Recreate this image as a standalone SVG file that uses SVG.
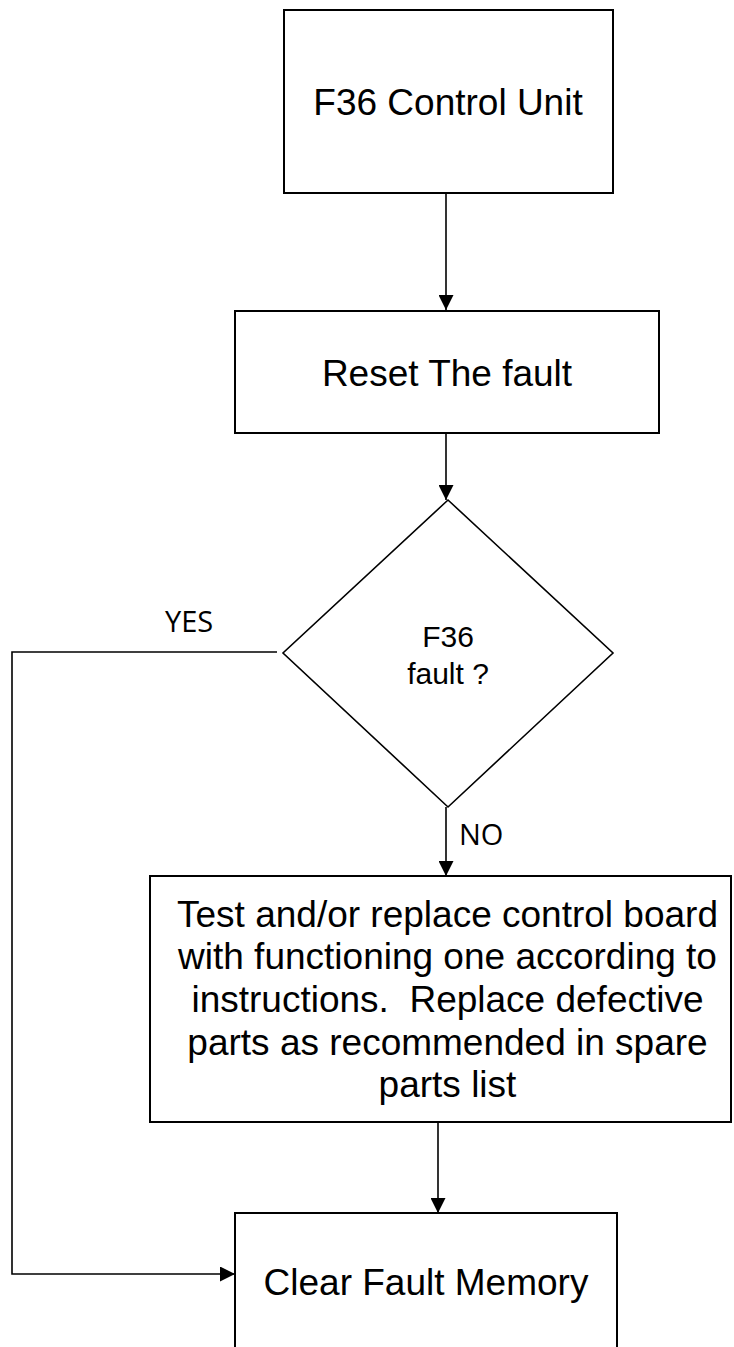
<svg xmlns="http://www.w3.org/2000/svg" width="734" height="1347" viewBox="0 0 734 1347">
  <style>
    .box { fill: #ffffff; stroke: #000000; stroke-width: 2; }
    .dia { fill: #ffffff; stroke: #000000; stroke-width: 1.6; }
    .lbl { font-family: "Liberation Sans", Arial, sans-serif; font-size: 37px; fill: #000000; text-anchor: middle; }
    .dlbl { font-family: "Liberation Sans", Arial, sans-serif; font-size: 30px; fill: #000000; text-anchor: middle; }
    .elbl { font-family: "Open Sans", "Liberation Sans", sans-serif; font-size: 29px; fill: #000000; }
    .conn { fill: none; stroke: #000000; stroke-width: 1.6; }
  </style>
  <defs>
    <marker id="arr" viewBox="0 0 15 15" markerWidth="15" markerHeight="15" refX="15" refY="7.5" orient="auto" markerUnits="userSpaceOnUse">
      <path d="M0,0 L15,7.5 L0,15 z" fill="#000000"/>
    </marker>
  </defs>
  <rect x="0" y="0" width="734" height="1347" fill="#ffffff"/>

  <g id="connectors">
    <path class="conn" d="M446,193 V310" marker-end="url(#arr)"/>
    <path class="conn" d="M446,433 V500" marker-end="url(#arr)"/>
    <path class="conn" d="M446,807 V876" marker-end="url(#arr)"/>
    <path class="conn" d="M277,652 H12 V1274 H235" marker-end="url(#arr)"/>
    <path class="conn" d="M438,1122 V1213" marker-end="url(#arr)"/>
    <text class="elbl" x="165" y="632">YES</text>
    <text class="elbl" x="459" y="845">NO</text>
  </g>

  <g id="node-control-unit">
    <rect class="box" x="284" y="10" width="329" height="183"/>
    <text class="lbl" x="448" y="115">F36 Control Unit</text>
  </g>

  <g id="node-reset">
    <rect class="box" x="235" y="311" width="424" height="122"/>
    <text class="lbl" x="447" y="386">Reset The fault</text>
  </g>

  <g id="node-decision">
    <polygon class="dia" points="448,500 613,653 448,807 283,653"/>
    <text class="dlbl" x="448" y="647">F36</text>
    <text class="dlbl" x="448" y="684">fault ?</text>
  </g>

  <g id="node-test-replace">
    <rect class="box" x="150" y="876" width="581" height="246"/>
    <text class="lbl" x="447.5" y="927">Test and/or replace control board</text>
    <text class="lbl" x="447.5" y="969">with functioning one according to</text>
    <text class="lbl" x="447.5" y="1012" xml:space="preserve">instructions.  Replace defective</text>
    <text class="lbl" x="447.5" y="1055">parts as recommended in spare</text>
    <text class="lbl" x="447.5" y="1097">parts list</text>
  </g>

  <g id="node-clear-memory">
    <rect class="box" x="235" y="1213" width="382" height="150"/>
    <text class="lbl" x="426" y="1295">Clear Fault Memory</text>
  </g>
</svg>
